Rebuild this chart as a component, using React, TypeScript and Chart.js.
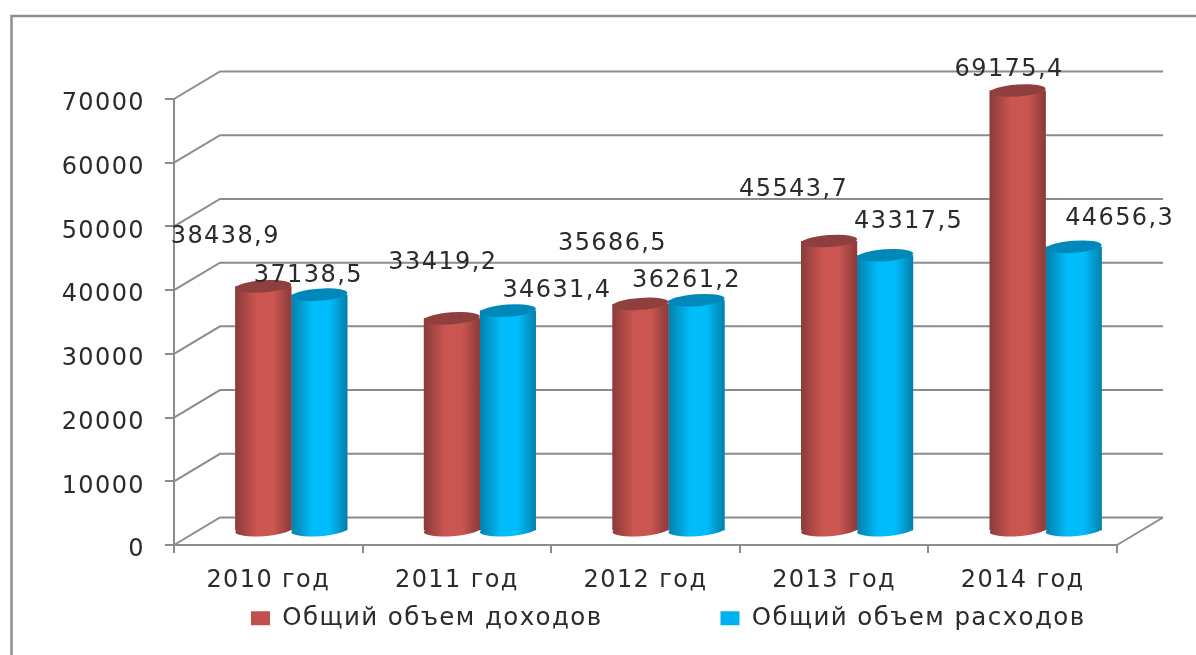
import React, { useEffect, useRef } from "react";
import { Chart, registerables } from "chart.js";

Chart.register(...registerables);

const categories = ["2010 год", "2011 год", "2012 год", "2013 год", "2014 год"];
const incomeName = "Общий объем доходов";
const expenseName = "Общий объем расходов";
const income = [38438.9, 33419.2, 35686.5, 45543.7, 69175.4];
const expense = [37138.5, 34631.4, 36261.2, 43317.5, 44656.3];

const incomeLabelDx = [-38, -9, -28, -35.5, -8.6];
const incomeLabelDy = [-50, -56, -60.6, -51.8, -21];
const expenseLabelDx = [-11, 49, -10, 23.5, 46];
const expenseLabelDy = [-19, -20, -19, -33, -27.5];

const FONT = '"DejaVu Sans", sans-serif';
const FONT_SIZE = 24;
const TEXT = "#2b2b2b";
const LINE = "#8c8c8c";
const DEPTH_X = 46;
const DEPTH_Y = 27.5;
const styles = [
  { edge: "#8a3b39", mid: "#cb5551", cap: "#8f3f3d", solid: "#c0504d" },
  { edge: "#047fa9", mid: "#00bcfa", cap: "#0088bb", solid: "#00b0f0" },
];

const decor = {
  id: "decor",
  beforeDraw(chart: any) {
    const { ctx, width, height } = chart;
    ctx.save();
    ctx.strokeStyle = "#8f8f8f";
    ctx.lineWidth = 2.5;
    ctx.beginPath();
    ctx.moveTo(11.5, height);
    ctx.lineTo(11.5, 16);
    ctx.lineTo(width, 16);
    ctx.stroke();
    ctx.restore();
  },
  beforeDatasetsDraw(chart: any) {
    const { ctx, scales, chartArea } = chart;
    const y = scales.y;
    ctx.save();
    ctx.strokeStyle = LINE;
    ctx.lineWidth = 2;
    y.ticks.forEach((t: any) => {
      const py = y.getPixelForValue(t.value);
      ctx.beginPath();
      ctx.moveTo(chartArea.left, py);
      ctx.lineTo(chartArea.left + DEPTH_X, py - DEPTH_Y);
      ctx.lineTo(chartArea.right + DEPTH_X, py - DEPTH_Y);
      ctx.stroke();
    });
    const by = y.getPixelForValue(0);
    ctx.beginPath();
    ctx.moveTo(chartArea.right + DEPTH_X, by - DEPTH_Y);
    ctx.lineTo(chartArea.right, by);
    ctx.stroke();
    ctx.restore();
  },
  beforeDatasetDraw(chart: any) {
    chart.ctx.save();
    chart.ctx.translate(DEPTH_X / 2, -DEPTH_Y / 2);
  },
  afterDatasetDraw(chart: any, args: any) {
    const { ctx } = chart;
    const st = styles[args.index];
    const tilt = -0.07;
    const ry = 6;
    args.meta.data.forEach((el: any) => {
      const rx = el.width / 2;
      const g = ctx.createLinearGradient(el.x - rx, 0, el.x + rx, 0);
      g.addColorStop(0, st.edge);
      g.addColorStop(0.38, st.mid);
      g.addColorStop(0.68, st.mid);
      g.addColorStop(1, st.edge);
      ctx.fillStyle = g;
      ctx.beginPath();
      ctx.ellipse(el.x, el.base, rx, ry, tilt, 0, Math.PI * 2);
      ctx.fill();
      ctx.fillRect(el.x - rx, el.y, el.width, el.base - el.y);
      ctx.fillStyle = st.cap;
      ctx.beginPath();
      ctx.ellipse(el.x, el.y, rx, ry, tilt, 0, Math.PI * 2);
      ctx.fill();
    });
    ctx.restore();
  },
  afterDatasetsDraw(chart: any) {
    const { ctx } = chart;
    const dx = [incomeLabelDx, expenseLabelDx];
    const dy = [incomeLabelDy, expenseLabelDy];
    ctx.save();
    ctx.font = `${FONT_SIZE}px ${FONT}`;
    ctx.fillStyle = TEXT;
    ctx.textAlign = "center";
    ctx.textBaseline = "middle";
    chart.data.datasets.forEach((ds: any, d: number) => {
      chart.getDatasetMeta(d).data.forEach((el: any, i: number) => {
        const text = String(ds.data[i]).replace(".", ",");
        ctx.fillText(text, el.x + DEPTH_X / 2 + dx[d][i], el.y - DEPTH_Y / 2 + dy[d][i]);
      });
    });
    ctx.restore();
  },
  beforeLayout(chart: any) {
    chart.ctx.letterSpacing = "1.4px";
    const lg = chart.legend;
    const proto = Object.getPrototypeOf(lg);
    lg.fit = function () {
      proto.fit.call(this);
      this.height = 60;
    };
  },
  afterLayout(chart: any) {
    const lg = chart.legend;
    const pad = lg.options.labels.padding;
    lg.left = 251 - pad;
    lg.right = chart.width + 300;
    lg.top = 606 - pad;
    lg.bottom = chart.height;
  },
};

export default function App() {
  const ref = useRef<HTMLCanvasElement>(null);
  useEffect(() => {
    document.body.style.margin = "0";
    const chart = new Chart(ref.current as HTMLCanvasElement, {
      type: "bar",
      data: {
        labels: categories,
        datasets: [
          { label: incomeName, data: income, backgroundColor: styles[0].solid },
          { label: expenseName, data: expense, backgroundColor: styles[1].solid },
        ],
      },
      plugins: [decor],
      options: {
        responsive: false,
        animation: false,
        layout: { padding: { left: 0, right: 79, top: 99, bottom: 0 } },
        datasets: { bar: { barPercentage: 1, categoryPercentage: 0.594 } },
        plugins: {
          tooltip: { enabled: false },
          title: { display: false },
          legend: {
            position: "bottom",
            align: "start",
            labels: {
              boxWidth: 19,
              boxHeight: 14,
              padding: 118,
              color: TEXT,
              font: { family: FONT, size: 24.5 },
            },
          },
        },
        scales: {
          x: {
            afterFit(s: any) {
              s.height = 50;
            },
            border: { display: true, color: LINE, width: 2 },
            grid: { display: true, drawOnChartArea: false, drawTicks: true, tickLength: 8, color: LINE, lineWidth: 2 },
            ticks: { color: TEXT, font: { family: FONT, size: FONT_SIZE }, padding: 13, maxRotation: 0, autoSkip: false },
          },
          y: {
            min: 0,
            max: 70000,
            afterFit(s: any) {
              s.width = 174;
            },
            border: { display: true, color: LINE, width: 2 },
            grid: { display: true, drawOnChartArea: false, drawTicks: true, tickLength: 9, color: LINE, lineWidth: 2 },
            ticks: {
              stepSize: 10000,
              color: TEXT,
              font: { family: FONT, size: FONT_SIZE },
              padding: 20,
              labelOffset: 5,
              callback: (v: any) => String(v),
            },
          },
        },
      } as any,
    });
    return () => chart.destroy();
  }, []);
  return (
    <canvas
      ref={ref}
      width={1196}
      height={655}
      style={{ position: "absolute", left: 0, top: 0, width: 1196, height: 655, filter: "blur(0.5px)" }}
    />
  );
}
